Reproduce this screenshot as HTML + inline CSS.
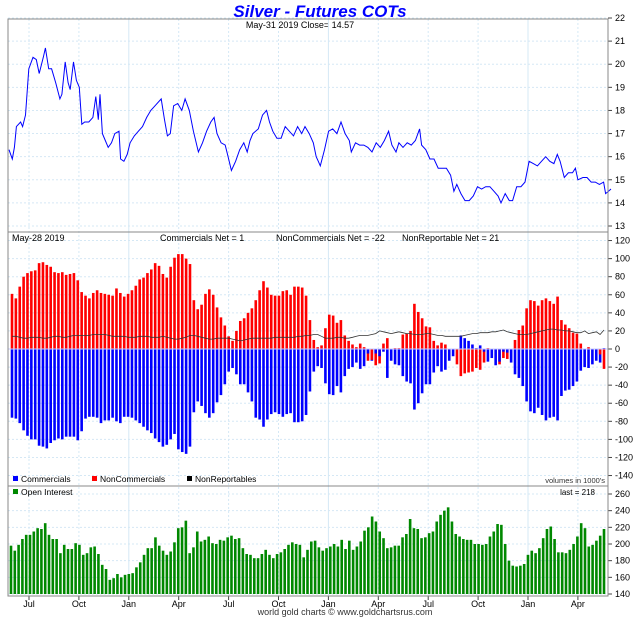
<!DOCTYPE html>
<html><head><meta charset="utf-8">
<style>
html,body{margin:0;padding:0;background:#fff;}
svg{display:block;font-family:"Liberation Sans",sans-serif;}
</style></head>
<body>
<svg id="chart" width="640" height="619" viewBox="0 0 640 619" xmlns="http://www.w3.org/2000/svg">
<rect x="0" y="0" width="640" height="619" fill="#fff"/>
<text x="320" y="17" text-anchor="middle" font-size="17" font-weight="bold" font-style="italic" fill="#0000ff">Silver - Futures COTs</text>
<text x="300" y="28" text-anchor="middle" font-size="9" fill="#000">May-31  2019   Close= 14.57</text>
<g id="grid"></g>
<g id="price"></g>
<g id="cot"></g>
<g id="oi"></g>
<g id="axes"></g>
<text x="12" y="241" font-size="9">May-28  2019</text>
<text x="160" y="241" font-size="9">Commercials Net = 1</text>
<text x="276" y="241" font-size="9">NonCommercials Net = -22</text>
<text x="402" y="241" font-size="9">NonReportable Net = 21</text>
<g>
<rect x="13" y="476" width="5" height="5" fill="#0000ff"/>
<text x="21" y="482" font-size="8.5">Commercials</text>
<rect x="92" y="476" width="5" height="5" fill="#ff0000"/>
<text x="100" y="482" font-size="8.5">NonCommercials</text>
<rect x="187" y="476" width="5" height="5" fill="#000"/>
<text x="195" y="482" font-size="8.5">NonReportables</text>
</g>
<text x="605" y="483" text-anchor="end" font-size="7.5" fill="#333">volumes in 1000's</text>
<rect x="13" y="489" width="5" height="5" fill="#008800"/>
<text x="21" y="495" font-size="8.5">Open Interest</text>
<text x="595" y="495" text-anchor="end" font-size="8">last = 218</text>
<text x="345" y="615" text-anchor="middle" font-size="9" fill="#333">world gold charts © www.goldchartsrus.com</text>
</svg>
<script>
// ---- data ----
const priceT = [22,30,35,40,50,55,62,70,80,88,95,105,110,118,125,135,145,150,158,165,170,178,185,192,198,205,215,225,232,238,242,248,255,262,270,278,288,292,300,308,315,325,335,345,355,365,375,390,398,405,412,420,430,440,448,458,468,480,490,500,510,518,525,535,545,552,560,570,580,590,598,605,612,625,635,645,652,660,670,680,690,700,710,720,730,738,748,758,765,770,775,785,795,805,815,825,835,845,850,860,870,880,890,900,910,920,930,940,948,958,965,975,985,995,1005,1015,1020,1030,1040,1050,1060,1070,1080,1090,1098,1105,1115,1125,1135,1145,1155,1165,1175,1185,1195,1205,1212,1222,1232,1240,1250,1260,1270,1280,1290,1300,1310,1320,1330,1340,1348,1355,1365,1375,1385,1392,1398,1410,1420,1430,1440,1450,1460,1465,1472,1478];
const priceV = [16.3,15.9,16.4,17.3,17.5,17.3,17.8,19.8,20.3,20.2,19.6,20.3,20.7,19.8,19.8,19.2,18.5,18.7,20.1,19.2,18.9,20.1,19.3,19.0,17.4,17.5,17.5,17.7,18.6,17.6,18.7,17.0,16.7,16.4,16.6,17.0,17.1,15.9,15.8,16.1,16.6,16.9,17.1,17.3,17.7,18.0,18.2,18.5,17.6,16.9,17.0,18.2,18.3,18.0,18.5,18.0,17.1,16.2,16.6,17.1,17.5,17.7,17.0,16.6,16.5,16.0,15.4,15.8,16.3,16.6,16.2,16.7,17.0,17.2,17.8,18.0,17.5,17.1,16.8,16.8,17.3,17.1,16.9,17.3,17.0,17.3,17.0,16.6,16.0,15.8,15.6,16.3,17.1,17.2,17.0,17.5,17.0,16.7,16.2,16.6,16.5,16.5,16.4,16.2,16.6,16.4,16.7,17.1,16.5,16.2,16.6,16.4,16.6,16.5,16.7,17.2,16.5,16.3,15.9,15.9,15.5,15.5,15.5,15.2,14.5,14.8,14.4,14.1,14.1,14.3,14.7,14.6,14.7,14.7,14.5,14.3,14.0,14.4,14.1,14.1,14.7,14.7,14.9,15.8,15.7,15.6,15.8,16.0,15.8,15.7,16.1,15.8,15.1,15.3,15.3,15.5,15.0,15.1,15.1,14.9,14.9,14.8,14.9,14.4,14.5,14.6];
const priceTicks = [13,14,15,16,17,18,19,20,21,22];

const commercials = [-76,-77,-82,-90,-96,-100,-100,-107,-108,-110,-104,-101,-99,-100,-97,-97,-97,-101,-91,-77,-75,-75,-76,-82,-79,-79,-76,-80,-82,-75,-75,-76,-79,-82,-86,-90,-93,-99,-103,-108,-106,-100,-94,-111,-114,-116,-108,
-70,-58,-63,-71,-76,-71,-59,-51,-39,-25,-21,-28,-39,-39,-48,-58,-76,-78,-86,-78,-72,-70,-72,-75,-72,-71,-81,-81,-80,-73,-47,-25,-19,
-21,-38,-50,-51,-41,-48,-30,-22,-20,-15,-22,-19,-5,-13,-5,-8,-3,-32,-13,-17,-18,-30,-36,-38,-67,-60,-49,-39,-39,-26,-19,-25,-23,-13,-8,0,15,12,9,5,1,4,-3,-14,-10,-18,-14,-3,-4,-15,-28,-32,-41,-58,-69,-71,-65,-73,-79,-76,-75,-79,-52,-46,-45,-41,-36,-24,-20,-21,-17,-13,-15,1];
const nonCommercials = [61,56,69,80,84,86,87,95,96,93,91,85,84,85,82,83,84,76,63,59,56,62,65,62,61,60,59,67,62,58,61,65,70,77,79,84,88,95,92,83,79,91,101,105,105,100,94,
54,44,49,61,66,60,46,35,26,14,9,20,31,34,40,45,54,65,75,68,60,59,59,64,65,60,69,69,68,59,32,10,2,
4,23,38,37,29,32,15,9,5,2,6,2,-13,-12,-18,-16,6,12,0,1,1,16,17,20,50,41,34,25,24,9,4,7,5,0,0,-17,-30,-27,-26,-25,-21,-23,-15,1,0,0,-17,-10,-11,0,10,21,26,45,54,53,48,54,56,53,50,58,32,27,23,18,17,6,0,2,0,0,-6,-22];
const nonReportables = [14,14,13,12,12,13,13,13,12,12,13,14,14,13,13,14,15,15,15,15,15,16,16,16,16,15,14,14,14,14,13,13,13,14,14,14,13,13,13,14,13,12,11,11,12,13,15,15,14,13,12,11,11,12,12,12,12,11,10,9,10,11,12,12,12,12,12,12,13,13,13,13,13,13,14,14,15,15,16,16,
14,12,12,12,13,13,12,12,13,14,15,15,15,16,17,20,19,18,17,18,19,18,17,17,16,16,16,17,17,16,15,15,14,14,14,14,14,15,16,17,17,18,18,18,19,19,20,21,19,18,17,16,16,16,17,18,19,20,21,22,22,21,21,20,20,19,18,18,20,17,18,19,16,21];
const cotTicks = [-140,-120,-100,-80,-60,-40,-20,0,20,40,60,80,100,120];

const openInterest = [198,192,199,206,211,211,215,219,218,225,211,206,206,189,199,194,194,201,199,187,189,196,197,188,175,170,157,159,164,160,163,164,165,172,178,187,195,195,208,198,192,187,191,202,219,220,228,189,196,215,203,205,209,201,200,205,204,208,210,206,207,195,188,187,183,183,188,193,187,183,188,190,194,199,202,200,199,184,193,203,204,196,192,195,197,200,197,205,194,204,193,197,203,216,220,233,227,215,207,195,196,198,198,208,212,230,219,218,207,208,213,215,227,235,240,244,227,212,209,206,205,205,200,200,199,200,209,215,224,223,200,180,174,173,174,176,187,192,189,195,207,218,221,206,190,190,189,193,200,209,225,219,197,199,204,210,218];
const oiTicks = [140,160,180,200,220,240,260];
const monthLabels = ["Jul","Oct","Jan","Apr","Jul","Oct","Jan","Apr","Jul","Oct","Jan","Apr"];
const monthPos = [0,1,2,3,4,5,6,7,8,9,10,11]; // quarter index

// ---- geometry ----
const NS="http://www.w3.org/2000/svg";
const L=8,R=608;
function mk(tag,attrs,parent){const e=document.createElementNS(NS,tag);for(const k in attrs)e.setAttribute(k,attrs[k]);parent.appendChild(e);return e;}
const yPrice=v=>18+(22-v)*(208/9);
const yCot=v=>349+(-v)*(235/260);
const yOi=v=>594-(v-140)*(100/120);
const xPriceT=t=>9+(t-22)*(602/1456);
const xQuarter=q=>29+q*49.9;
const xCot=i=>12+i*(592/(commercials.length-1));
const xOi=i=>11+i*(593/(openInterest.length-1));

const grid=document.getElementById('grid');
const axes=document.getElementById('axes');
// vertical grid
monthPos.forEach((q,i)=>{
  const x=xQuarter(q);
  const solid=monthLabels[i]==="Jan";
  const ln=mk('line',{x1:x,x2:x,y1:19,y2:596,stroke:'#d5e8f5','stroke-width':1,'stroke-dasharray':solid?'':'2,2'},grid);
  
  
  const tk=mk('line',{x1:x,x2:x,y1:596,y2:600,stroke:'#444'},axes);
  
  
  const t=mk('text',{x:x,y:607,'text-anchor':'middle','font-size':9},axes);
  t.textContent=monthLabels[i];
  
  
});
function hTicks(ticks,yf,name){
  ticks.forEach(v=>{
    const y=yf(v);
    const g=mk('line',{x1:L,x2:R,y1:y,y2:y,stroke:'#d5e8f5','stroke-dasharray':'2,2'},grid);
    
    
    const tk=mk('line',{x1:R,x2:R+4,y1:y,y2:y,stroke:'#444'},axes);
    
    
    const t=mk('text',{x:R+7,y:y+3,'font-size':9},axes);
    t.textContent=v;
    
    
  });
}
hTicks(priceTicks,yPrice,'price-axis');
hTicks(cotTicks,yCot,'cot-axis');
hTicks(oiTicks,yOi,'oi-axis');
// frames
[[19,232],[232,486],[486,596]].forEach(([a,b])=>{
  const r=mk('rect',{x:L,y:a,width:R-L,height:b-a,fill:'none',stroke:'#888','stroke-width':1},axes);
  
  
});

// price line
const pp=priceT.map((t,i)=>xPriceT(t).toFixed(1)+','+yPrice(priceV[i]).toFixed(1)).join(' ');
const pl=mk('polyline',{points:pp,fill:'none',stroke:'#0000ff','stroke-width':1},document.getElementById('price'));



// COT bars
const cot=document.getElementById('cot');
const bw=2.6;
function bar(parent,x,v,yf,color,name){
  const y0=yf(0),y1=yf(v);
  const r=mk('rect',{x:x-bw/2,y:Math.min(y0,y1),width:bw,height:Math.max(0.5,Math.abs(y1-y0)),fill:color},parent);
  
  
}
commercials.forEach((v,i)=>{
  const c=v,n=nonCommercials[i];
  if(Math.abs(c)>Math.abs(n)||Math.sign(c)!==Math.sign(n)){bar(cot,xCot(i),c,yCot,'#0000ff','bar-commercials');bar(cot,xCot(i),n,yCot,'#ff0000','bar-noncommercials');}
  else{bar(cot,xCot(i),n,yCot,'#ff0000','bar-noncommercials');bar(cot,xCot(i),c,yCot,'#0000ff','bar-commercials');}
});
const zl=mk('line',{x1:L,x2:R,y1:yCot(0),y2:yCot(0),stroke:'#c8c8ff','stroke-width':1},cot);


const np=nonReportables.map((v,i)=>xCot(i).toFixed(1)+','+yCot(v).toFixed(1)).join(' ');
const nl=mk('polyline',{points:np,fill:'none',stroke:'#333','stroke-width':0.8},cot);



// OI bars
const oi=document.getElementById('oi');
openInterest.forEach((v,i)=>{
  const x=xOi(i),y=yOi(v);
  const r=mk('rect',{x:x-1.3,y:y,width:2.6,height:yOi(140)-y,fill:'#008800'},oi);
  
  
});
</script>
</body></html>
